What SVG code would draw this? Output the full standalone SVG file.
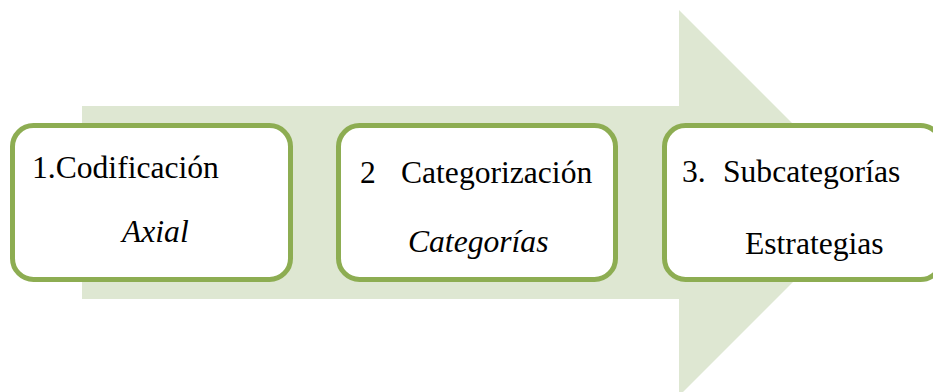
<svg xmlns="http://www.w3.org/2000/svg" width="933" height="392" viewBox="0 0 933 392">
  <style>
    .box { fill: #FFFFFF; stroke: #8DAD52; stroke-width: 5; }
    .t { font-family: "Liberation Serif", "Times New Roman", serif; font-size: 31.6px; fill: #000000; }
    .i { font-style: italic; }
  </style>
  <rect width="933" height="392" fill="#FFFFFF"/>
  <g id="arrow">
    <polygon points="82,106 679,106 679,10 872,203 679,396 679,299 82,299" fill="#DEE7D2"/>
  </g>
  <g id="connectors"></g>
  <g id="node1">
    <rect class="box" x="12.5" y="125.5" width="278" height="154" rx="21" ry="21"/>
    <text class="t" x="32" y="178">1.Codificación</text>
    <text class="t i" x="122" y="242">Axial</text>
  </g>
  <g id="node2">
    <rect class="box" x="338.5" y="125.5" width="277" height="154" rx="21" ry="21"/>
    <text class="t" y="183"><tspan x="360">2</tspan><tspan x="401">Categorización</tspan></text>
    <text class="t i" x="408" y="252">Categorías</text>
  </g>
  <g id="node3">
    <rect class="box" x="664.5" y="125.5" width="277" height="154" rx="21" ry="21"/>
    <text class="t" y="182"><tspan x="682">3.</tspan><tspan x="723">Subcategorías</tspan></text>
    <text class="t" x="745" y="254">Estrategias</text>
  </g>
</svg>
